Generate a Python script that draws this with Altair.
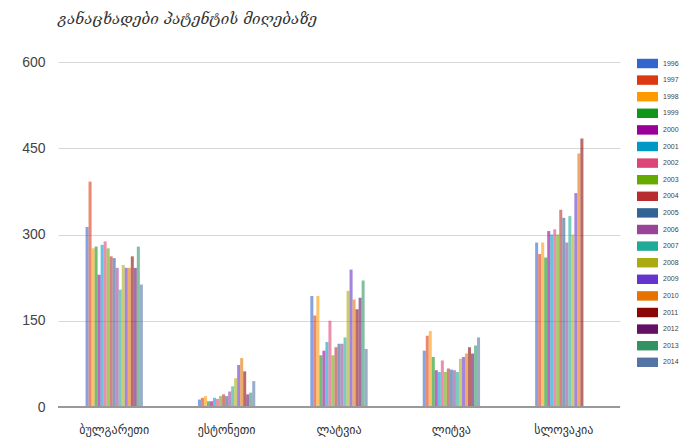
import altair as alt
import pandas as pd

countries = ["ბულგარეთი", "ესტონეთი", "ლატვია", "ლიტვა", "სლოვაკია"]
years = ["1996", "1997", "1998", "1999", "2000", "2001", "2002", "2003", "2004", "2005",
         "2006", "2007", "2008", "2009", "2010", "2011", "2012", "2013", "2014"]

bulgaria = [313, 392, 276, 279, 230, 282, 288, 276, 262, 259, 242, 204, 247, 242, 242, 262, 242, 279, 213]
estonia = [13, 16, 19, 10, 10, 16, 14, 19, 22, 19, 27, 36, 50, 73, 85, 62, 22, 25, 45]
latvia = [193, 159, 193, 90, 98, 113, 150, 90, 104, 110, 110, 121, 202, 239, 187, 170, 190, 220, 101]
lithuania = [98, 124, 132, 87, 64, 61, 81, 61, 67, 65, 64, 61, 84, 87, 93, 104, 93, 107, 121]
slovakia = [286, 266, 286, 260, 306, 300, 309, 300, 343, 329, 286, 332, 300, 372, 441, 467, None, None, None]

palette = ["#3366cc", "#dc3912", "#ff9900", "#109618", "#990099", "#0099c6", "#dd4477",
           "#66aa00", "#b82e2e", "#316395", "#994499", "#22aa99", "#aaaa11", "#6633cc",
           "#e67300", "#8b0707", "#651067", "#329262", "#5574a6"]

title_text = "განაცხადები პატენტის მიღებაზე"

series = [bulgaria, estonia, latvia, lithuania, slovakia]
rows = []
for c, vals in zip(countries, series):
    for y, v in zip(years, vals):
        if v is not None:
            rows.append({"country": c, "year": y, "value": v})
df = pd.DataFrame(rows)

bars = alt.Chart(df).mark_bar(opacity=0.6).encode(
    x=alt.X("country:N", sort=countries,
            scale=alt.Scale(paddingInner=0.49, paddingOuter=0.245),
            axis=alt.Axis(title=None, labelAngle=0, domain=False, ticks=False,
                          labelPadding=17, labelFontSize=12, labelColor="#333",
                          labelFont="DejaVu Sans")),
    xOffset=alt.XOffset("year:N", sort=years, scale=alt.Scale(paddingInner=0, paddingOuter=0)),
    y=alt.Y("value:Q", scale=alt.Scale(domain=[0, 600], nice=False),
            axis=alt.Axis(title=None, values=[0, 150, 300, 450, 600], domain=False,
                          ticks=False, labelPadding=13, labelFontSize=14,
                          labelColor="#444", labelFont="Liberation Sans",
                          gridColor="#d8d8d8", gridWidth=1)),
    color=alt.Color("year:N", sort=years,
                    scale=alt.Scale(domain=years, range=palette),
                    legend=alt.Legend(title=None, orient="none", legendX=579, legendY=-9,
                                      symbolType="M-1,-0.45H1V0.45H-1Z", symbolSize=441,
                                      symbolOpacity=1, symbolStrokeWidth=0,
                                      labelFontSize=7, labelColor="#444",
                                      labelFont="Liberation Sans", rowPadding=0.6,
                                      labelOffset=5)),
)

base = alt.Chart(pd.DataFrame({"v": [0]})).mark_rule(color="#999", strokeWidth=2).encode(
    y="v:Q"
)

chart = alt.layer(bars, base).properties(
    width=562, height=345,
    padding={"left": 50, "top": 54, "right": 59, "bottom": 30},
    autosize=alt.AutoSizeParams(type="none"),
    title=alt.TitleParams(title_text, anchor="start", frame="group", offset=26,
                          fontSize=15, font="DejaVu Serif", fontStyle="italic",
                          fontWeight="normal", color="#333"),
).configure_view(stroke=None)

chart.save("out.html", embed_options={"renderer": "svg", "actions": False})
